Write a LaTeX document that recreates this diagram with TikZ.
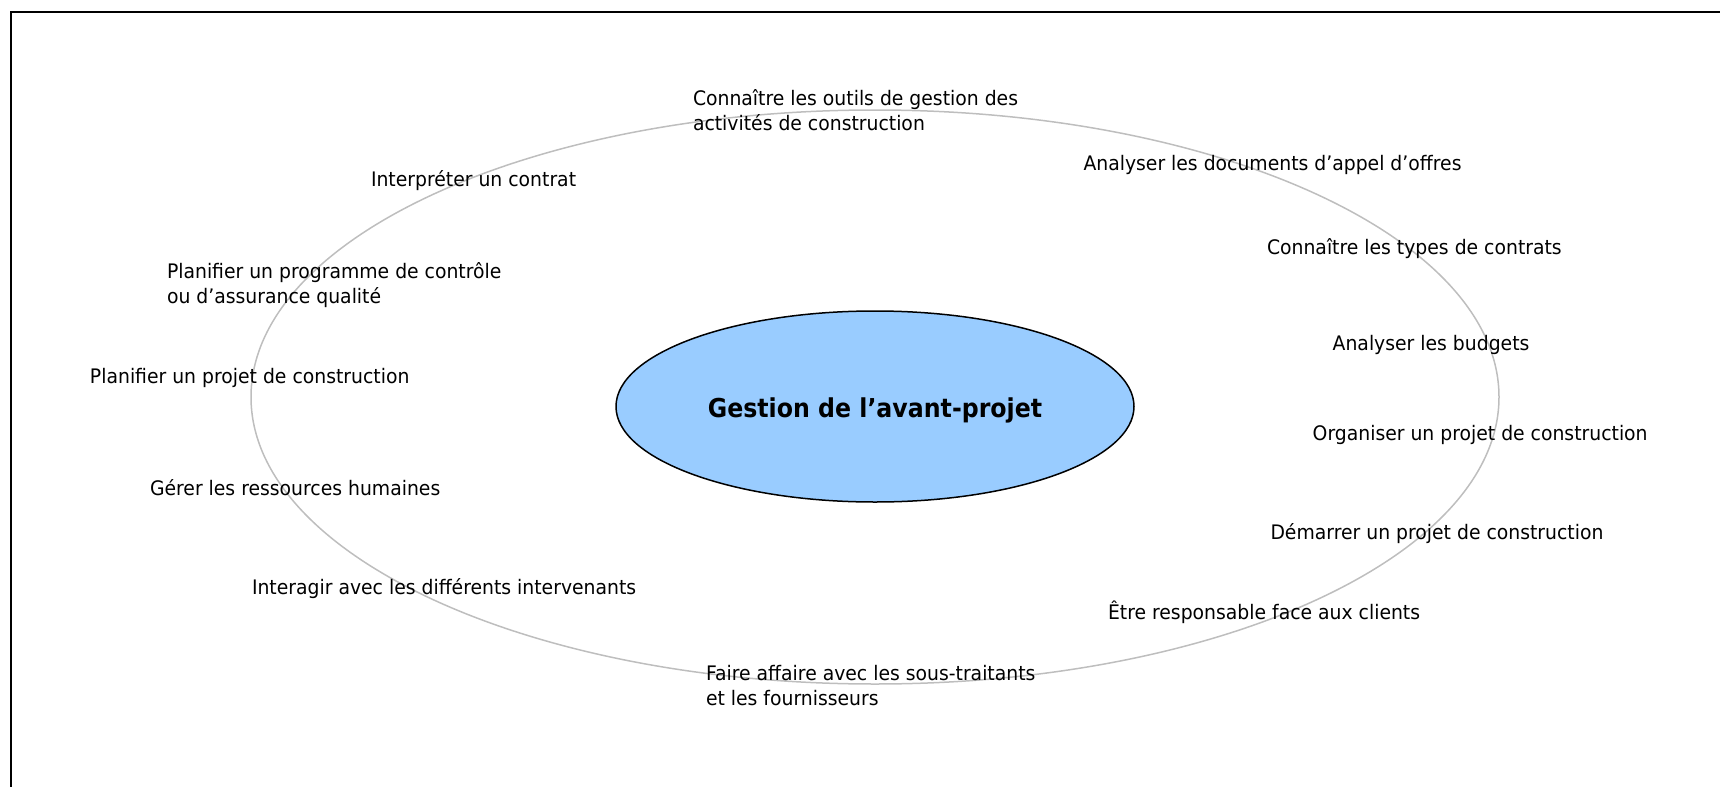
\documentclass[tikz,border=0pt]{standalone}
\usepackage{fontspec}
\setmainfont{DejaVu Sans}[FakeStretch=0.94]
\newfontfamily\titlefont{DejaVu Sans}[FakeStretch=0.91]
\usetikzlibrary{shapes.geometric}
\newcommand{\twolines}[2]{\begin{tabular}[t]{@{}l@{}}#1\\#2\end{tabular}}
\begin{document}
\begin{tikzpicture}[x=0.5pt,y=-0.5pt,
  lbl/.style={anchor=base west,inner sep=0pt,outer sep=0pt,font=\fontsize{10}{12.75}\selectfont},
  ring/.style={draw={rgb,255:red,190;green,190;blue,190},line width=0.75pt},
  core/.style={ellipse,draw=black,line width=0.75pt,fill={rgb,255:red,153;green,204;blue,255},inner sep=0pt,minimum width=259pt,minimum height=95.5pt},
  frameline/.style={draw=black,line width=1pt}]
\useasboundingbox (0,0) rectangle (1720,787);
% frame (only top and left edges visible)
\coordinate (fbl) at (11,790);
\coordinate (ftl) at (11,12);
\coordinate (ftr) at (1723,12);
\draw[frameline] (fbl) -- (ftl) -- (ftr);
% outer ring
\draw[ring] (875,397) ellipse [x radius=624,y radius=287];
% central ellipse
\node[core] (centre) at (875,406.5) {};
\node[anchor=base,inner sep=0pt,font=\titlefont\fontsize{13}{15}\selectfont\bfseries] (titre) at (875,417.5) {Gestion de l’avant-projet};
% labels
\node[lbl] (l1) at (693,105.3) {\twolines{Connaître les outils de gestion des}{activités de construction}};
\node[lbl] (l2) at (1083.5,170) {Analyser les documents d’appel d’offres};
\node[lbl] (l3) at (1267,254) {Connaître les types de contrats};
\node[lbl] (l4) at (371,186) {Interpréter un contrat};
\node[lbl] (l5) at (167,278.3) {\twolines{Planifier un programme de contrôle}{ou d’assurance qualité}};
\node[lbl] (l6) at (90,383.7) {Planifier un projet de construction};
\node[lbl] (l7) at (150,495.3) {Gérer les ressources humaines};
\node[lbl] (l8) at (252,594) {Interagir avec les différents intervenants};
\node[lbl] (l9) at (706,680.3) {\twolines{Faire affaire avec les sous-traitants}{et les fournisseurs}};
\node[lbl] (l10) at (1108,619) {Être responsable face aux clients};
\node[lbl] (l11) at (1270.5,539.5) {Démarrer un projet de construction};
\node[lbl] (l12) at (1312.7,440) {Organiser un projet de construction};
\node[lbl] (l13) at (1332.7,350.5) {Analyser les budgets};
\end{tikzpicture}
\end{document}
